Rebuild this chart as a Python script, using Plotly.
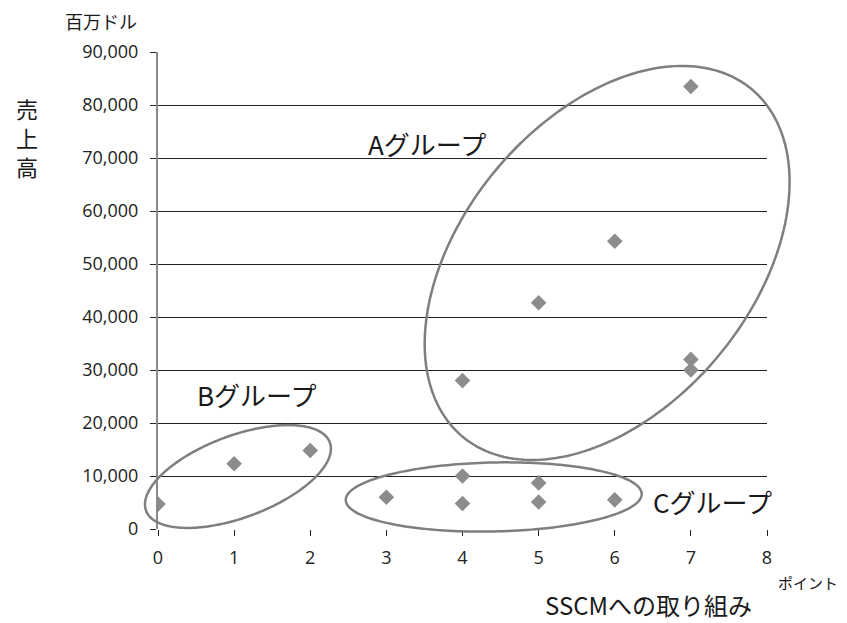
import numpy as np
import plotly.graph_objects as go

# SSCM取り組みポイント vs 売上高（百万ドル）
points = [0, 1, 2, 3, 4, 4, 4, 5, 5, 5, 6, 6, 7, 7, 7]
sales = [4700, 12300, 14800, 6000, 28000, 10000, 4800, 42700, 8700, 5100, 54300, 5500, 83500, 32000, 30000]

x_ticks = list(range(0, 9))
y_ticks = list(range(0, 90001, 10000))
y_tick_text = ["0"] + [f"{v:,}" for v in y_ticks[1:]]

# Group outlines: centre (data), semi-axes (px), rotation (deg)
groups = ["Aグループ", "Bグループ", "Cグループ"]
group_centres = [(5.90, 50200), (1.05, 9900), (4.41, 6040)]
group_axes_px = [(226, 145), (98, 41), (148, 34.5)]
group_angles = [50.3, 20.4, 1.2]
group_label_pos = [(3.53, 72800), (1.30, 25300), (7.28, 5100)]

W, H = 847, 623
ML, MR, MT, MB = 158, 80, 52, 94
X_RANGE = (0, 8)
Y_RANGE = (0, 90000)
PW, PH = W - ML - MR, H - MT - MB

FONT = "Open Sans, Noto Sans CJK JP, sans-serif"
JP = "Noto Sans CJK JP, sans-serif"
TXT = "#1a1a1a"


def to_paper_x(x):
    return (x - X_RANGE[0]) / (X_RANGE[1] - X_RANGE[0])


def to_paper_y(y):
    return (y - Y_RANGE[0]) / (Y_RANGE[1] - Y_RANGE[0])


fig = go.Figure()

fig.add_trace(go.Scatter(
    x=points, y=sales, mode="markers",
    marker=dict(symbol="diamond", size=12, color="#8c8c8c", line=dict(width=0)),
    showlegend=False,
))

# Ellipses drawn as paper-referenced paths so they may extend past the plot area
t = np.linspace(0, 2 * np.pi, 200, endpoint=False)
for (cx, cy), (a, b), ang in zip(group_centres, group_axes_px, group_angles):
    th = np.deg2rad(ang)
    dx = a * np.cos(t) * np.cos(th) - b * np.sin(t) * np.sin(th)
    dy = a * np.cos(t) * np.sin(th) + b * np.sin(t) * np.cos(th)
    px = to_paper_x(cx) + dx / PW
    py = to_paper_y(cy) + dy / PH
    path = "M " + " L ".join(f"{u:.5f},{v:.5f}" for u, v in zip(px, py)) + " Z"
    fig.add_shape(type="path", path=path, xref="paper", yref="paper",
                  line=dict(color="#7f7f7f", width=2.5), fillcolor="rgba(0,0,0,0)")

for name, (lx, ly) in zip(groups, group_label_pos):
    fig.add_annotation(x=lx, y=ly, text=name, showarrow=False,
                       xanchor="center", yanchor="middle",
                       font=dict(family=JP, size=26, color=TXT))

# 縦書きの軸タイトル
for i, ch in enumerate("売上高"):
    fig.add_annotation(xref="paper", yref="paper", x=(27 - ML) / PW, y=1.0,
                       yshift=MT - 108 - i * 29, text=ch, showarrow=False,
                       xanchor="center", yanchor="middle",
                       font=dict(family=JP, size=22, color=TXT))

fig.add_annotation(xref="paper", yref="paper", x=(101 - ML) / PW, y=1.0, yshift=MT - 21,
                   text="百万ドル", showarrow=False, xanchor="center", yanchor="middle",
                   font=dict(family=JP, size=18, color=TXT))
fig.add_annotation(xref="paper", yref="paper", x=(648 - ML) / PW, y=0, yshift=-(604 - (H - MB)),
                   text="SSCMへの取り組み", showarrow=False, xanchor="center", yanchor="middle",
                   font=dict(family=JP, size=24, color=TXT))
fig.add_annotation(xref="paper", yref="paper", x=(808 - ML) / PW, y=0, yshift=-(582 - (H - MB)),
                   text="ポイント", showarrow=False, xanchor="center", yanchor="middle",
                   font=dict(family=JP, size=15, color=TXT))

fig.update_xaxes(
    range=X_RANGE, tickvals=x_ticks, showgrid=False, zeroline=False,
    showline=False, ticks="outside", ticklen=6, tickcolor="#222",
    ticklabelstandoff=6,
    tickfont=dict(family=FONT, size=18, color="#222"),
)
fig.update_yaxes(
    range=Y_RANGE, tickvals=y_ticks, ticktext=y_tick_text,
    showgrid=True, gridcolor="#222", gridwidth=1, zeroline=False,
    showline=True, linecolor="#8a8a8a", linewidth=2,
    ticks="outside", ticklen=6, tickcolor="#222",
    ticklabelstandoff=8,
    tickfont=dict(family=FONT, size=18, color="#222"),
)

fig.update_layout(
    width=W, height=H,
    margin=dict(l=ML, r=MR, t=MT, b=MB),
    paper_bgcolor="white", plot_bgcolor="white",
    font=dict(family=FONT),
)

fig.write_html("out.html")
